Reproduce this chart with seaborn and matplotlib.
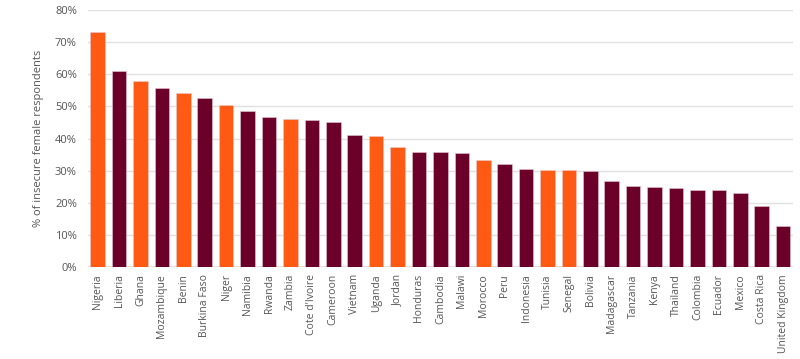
import matplotlib
matplotlib.use("Agg")
import matplotlib.pyplot as plt
import matplotlib.ticker as mticker
import numpy as np
import pandas as pd
import seaborn as sns

countries = [
    "Nigeria", "Liberia", "Ghana", "Mozambique", "Benin", "Burkina Faso", "Niger",
    "Namibia", "Rwanda", "Zambia", "Cote d'Ivoire", "Cameroon", "Vietnam", "Uganda",
    "Jordan", "Honduras", "Cambodia", "Malawi", "Morocco", "Peru", "Indonesia",
    "Tunisia", "Senegal", "Bolivia", "Madagascar", "Tanzania", "Kenya", "Thailand",
    "Colombia", "Ecuador", "Mexico", "Costa Rica", "United Kingdom",
]
values = [
    73.2, 61.0, 58.0, 55.7, 54.3, 52.7, 50.5, 48.5, 46.7, 46.0, 45.8, 45.2, 41.1,
    40.8, 37.3, 35.7, 35.7, 35.5, 33.2, 32.0, 30.6, 30.3, 30.2, 29.9, 26.9, 25.3,
    24.8, 24.5, 24.1, 23.9, 23.2, 18.9, 12.7,
]
highlighted = {"Nigeria", "Ghana", "Benin", "Niger", "Zambia", "Uganda", "Jordan",
               "Morocco", "Tunisia", "Senegal"}

df = pd.DataFrame({"country": countries, "value": values})
df["group"] = ["hi" if c in highlighted else "lo" for c in df["country"]]
palette = {"hi": "#FF5A14", "lo": "#6B0029"}

sns.set_theme(style="white")
plt.rcParams["font.family"] = ["Open Sans", "DejaVu Sans"]

fig = plt.figure(figsize=(8, 3.59), dpi=100)
ax = fig.add_axes([0.11, 0.256, 0.881, 0.716])

sns.barplot(data=df, x="country", y="value", hue="group", palette=palette,
            dodge=False, legend=False, width=0.68, saturation=1, ax=ax,
            edgecolor="#e8c8cf", linewidth=0.4)

ax.set_ylim(0, 80)
ax.set_xlim(-0.45, len(countries) - 0.55)
ax.yaxis.set_major_locator(mticker.MultipleLocator(10))
ax.yaxis.set_major_formatter(mticker.FuncFormatter(lambda v, _: f"{v:.0f}%"))
ax.grid(axis="y", color="#e0e0e0", linewidth=1)
ax.set_axisbelow(True)
for s in ax.spines.values():
    s.set_visible(False)
ax.axhline(0, color="#d9d9d9", linewidth=1.2, zorder=0)

ax.set_xlabel("")
ax.set_ylabel("% of insecure female respondents", fontsize=8, color="#555555",
              labelpad=8)
ax.tick_params(axis="x", labelrotation=90, labelsize=7.5, colors="#555555",
               length=0, pad=5)
ax.tick_params(axis="y", labelsize=8, colors="#555555", length=0, pad=8)

fig.savefig("out.png", dpi=100)
